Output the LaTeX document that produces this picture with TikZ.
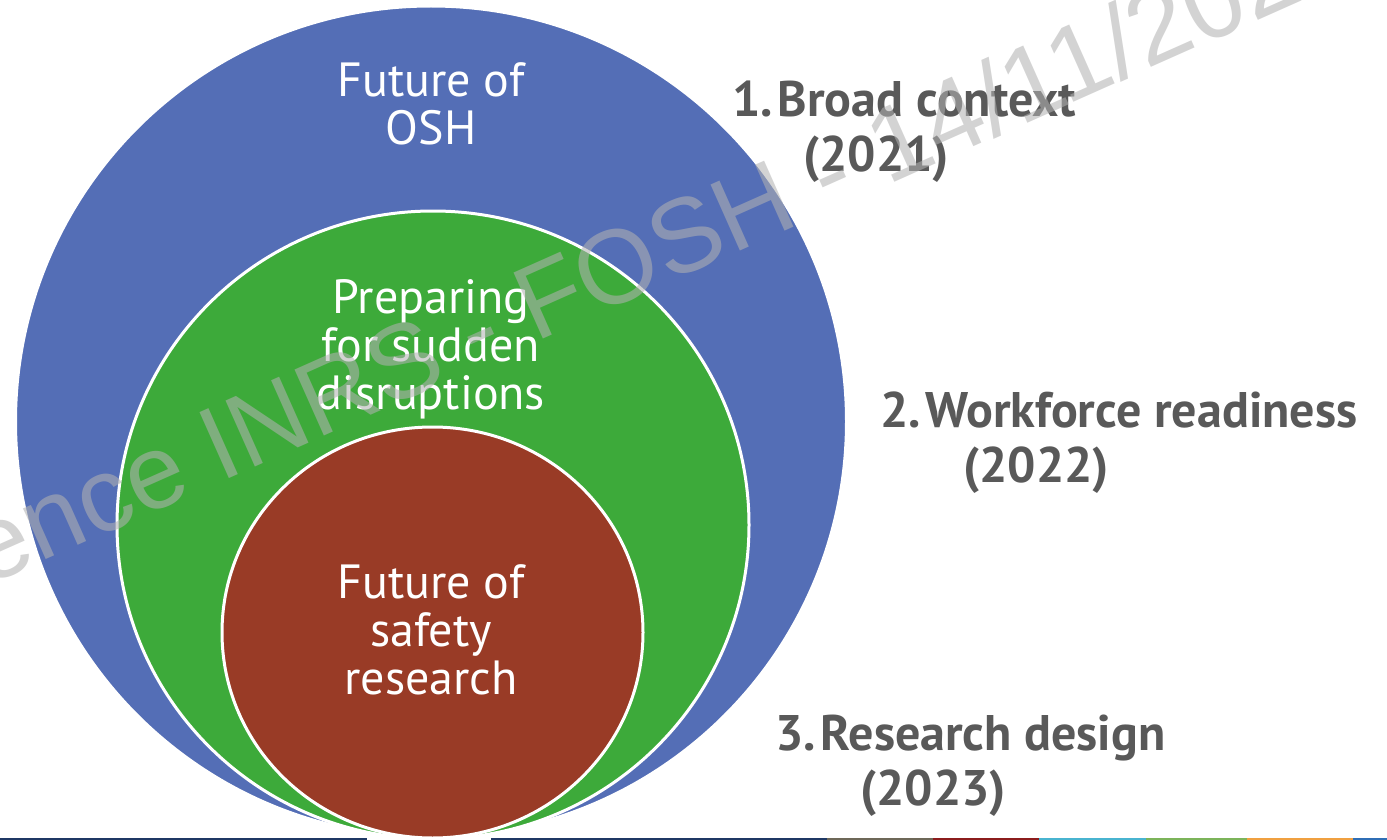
\documentclass[tikz,border=0pt]{standalone}
\usepackage{fontspec}
\setmainfont{PT Sans}
\newfontfamily\wmfont{Liberation Sans}
\usetikzlibrary{shapes.geometric}
\definecolor{cblue}{RGB}{84,110,182}
\definecolor{cgreen}{RGB}{61,170,58}
\definecolor{cred}{RGB}{153,59,38}
\definecolor{lgray}{RGB}{89,89,89}
\definecolor{wmgray}{RGB}{178,178,178}
\definecolor{snavy}{RGB}{31,56,100}
\definecolor{sgray}{RGB}{110,104,88}
\definecolor{sred}{RGB}{140,28,28}
\definecolor{scyan}{RGB}{72,180,208}
\definecolor{sgreen}{RGB}{124,180,90}
\definecolor{sorange}{RGB}{240,160,64}
\definecolor{sblue}{RGB}{47,110,181}
\begin{document}
\begin{tikzpicture}[x=1pt,y=-1pt,
  disc/.style={ellipse, draw=white, line width=3pt, inner sep=0pt, outer sep=0pt},
  intext/.style={text=white, font=\fontsize{48}{48}\selectfont, inner sep=0pt, anchor=base},
  sidelabel/.style={text=lgray, font=\bfseries\fontsize{50}{55}\selectfont, inner sep=0pt, anchor=base west},
  wm/.style={text=wmgray, opacity=0.57, font=\wmfont\fontsize{105}{105}\selectfont, inner sep=0pt}]
\useasboundingbox (0,0) rectangle (1387,840);
\clip (0,0) rectangle (1387,840);
% bottom stripe
\fill[snavy] (0,838) rectangle (367,840);
\fill[snavy] (491,838) rectangle (827,840);
\fill[sgray] (827,838) rectangle (933,840);
\fill[sred] (933,838) rectangle (1039,840);
\fill[scyan] (1039,838) rectangle (1146,840);
\fill[sgreen] (1146,838) rectangle (1247,840);
\fill[sorange] (1247,838) rectangle (1353,840);
\fill[sblue] (1353,838) rectangle (1387,840);
% circles
\node[disc, fill=cblue, minimum width=831pt, minimum height=831pt] (outer) at (431,421.5) {};
\node[disc, fill=cgreen, minimum width=632pt, minimum height=628pt] (middle) at (433,525) {};
\node[disc, fill=cred, minimum width=421pt, minimum height=411pt] (inner) at (432.5,632.5) {};
% circle texts
\node[intext] (t1) at (431,97) {\parbox[t]{300pt}{\centering Future of\\OSH}};
\node[intext] (t2) at (431,313) {\parbox[t]{320pt}{\centering Preparing\\for sudden\\disruptions}};
\node[intext] (t3) at (431,598) {\parbox[t]{300pt}{\centering Future of\\safety\\research}};
% side labels
\node[sidelabel] (l1) at (732,117) {\parbox[t]{700pt}{1.\hspace{5pt}Broad context\\\hspace*{71pt}(2021)}};
\node[sidelabel] (l2) at (880,427) {\parbox[t]{700pt}{2.\hspace{5pt}Workforce readiness\\\hspace*{83pt}(2022)}};
\node[sidelabel] (l3) at (775,750) {\parbox[t]{700pt}{3.\hspace{5pt}Research design\\\hspace*{85pt}(2023)}};
% watermark
\node[wm, rotate=24, anchor=base] (mark) at (612,308) {Licence INRS - FOSH - 14/11/2023};
\end{tikzpicture}
\end{document}
